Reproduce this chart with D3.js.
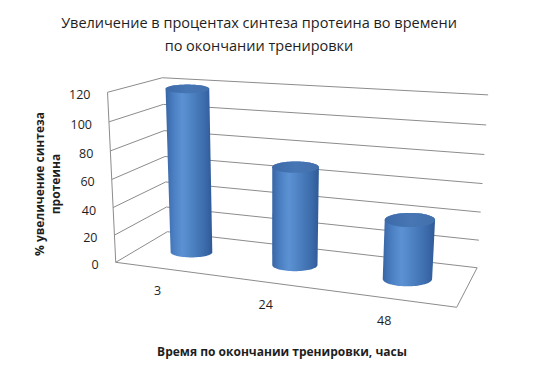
<!DOCTYPE html>
<html>
<head>
<meta charset="utf-8">
<script src="https://cdn.jsdelivr.net/npm/d3@7"></script>
<style>
  body { margin: 0; background: #fff; }
  text { font-family: "Open Sans", sans-serif; fill: #1e1e1e; }
</style>
</head>
<body>
<svg id="chart" width="548" height="378"></svg>
<script>
const categories = ['3', '24', '48'];
const values = [119, 70, 41];
const yTicks = [0, 20, 40, 60, 80, 100, 120];
const titleLines = ['Увеличение в процентах синтеза протеина во времени', 'по окончании тренировки'];
const yTitleLines = ['% увеличение синтеза', 'протеина'];
const xTitle = 'Время по окончании тренировки, часы';

const svg = d3.select('#chart');

const x = d3.scalePoint().domain(categories).range([0, 1]).padding(0.5);
const y = d3.scaleLinear().domain([0, 120]).range([0, 1]);

// where the plot box corners land on screen: [u, v, w] (w = depth) -> [px, py]
const corners = [
  [[0, 0, 0], [116, 261]],
  [[0, 1, 0], [107, 93]],
  [[1, 0, 0], [457, 308]],
  [[0, 0, 1], [167, 233]],
  [[0, 1, 1], [163, 77]],
  [[1, 0, 1], [477, 267]],
  [[1, 1, 1], [488, 95]]
];

// least squares fit of a perspective camera (3x4, last entry 1) to the corners
function fitCamera(pts) {
  const rows = [], rhs = [];
  pts.forEach(([[X, Y, Z], [px, py]]) => {
    rows.push([X, Y, Z, 1, 0, 0, 0, 0, -px * X, -px * Y, -px * Z]); rhs.push(px);
    rows.push([0, 0, 0, 0, X, Y, Z, 1, -py * X, -py * Y, -py * Z]); rhs.push(py);
  });
  const n = 11;
  const M = d3.range(n).map(i => d3.range(n + 1).map(j =>
    j < n ? d3.sum(rows, r => r[i] * r[j]) : d3.sum(rows, (r, k) => r[i] * rhs[k])));
  for (let c = 0; c < n; c++) {
    let p = c;
    for (let r = c + 1; r < n; r++) if (Math.abs(M[r][c]) > Math.abs(M[p][c])) p = r;
    [M[c], M[p]] = [M[p], M[c]];
    for (let r = 0; r < n; r++) {
      if (r === c) continue;
      const f = M[r][c] / M[c][c];
      for (let k = c; k <= n; k++) M[r][k] -= f * M[c][k];
    }
  }
  return M.map((row, i) => row[n] / row[i]);
}

const cam = fitCamera(corners);
function project(u, v, w) {
  const d = cam[8] * u + cam[9] * v + cam[10] * w + 1;
  return [(cam[0] * u + cam[1] * v + cam[2] * w + cam[3]) / d,
          (cam[4] * u + cam[5] * v + cam[6] * w + cam[7]) / d];
}

// gradients
const defs = svg.append('defs');
const bodyGrad = defs.append('linearGradient').attr('id', 'cylBody');
[[0, '#3866a5'], [0.18, '#4c80c4'], [0.36, '#5c92d4'], [0.6, '#4b7fbf'], [0.85, '#3b6aaa'], [1, '#2f5995']]
  .forEach(([o, c]) => bodyGrad.append('stop').attr('offset', o).attr('stop-color', c));
const topGrad = defs.append('linearGradient').attr('id', 'cylTop');
[[0, '#3d6aa8'], [0.5, '#4776b4'], [1, '#4270ad']]
  .forEach(([o, c]) => topGrad.append('stop').attr('offset', o).attr('stop-color', c));

// gridlines: side wall + back wall
const line = d3.line();
const grid = svg.append('g').attr('fill', 'none').attr('stroke', '#8c8c8c').attr('stroke-width', 1);
yTicks.forEach(t => {
  grid.append('path').attr('d', line([project(0, y(t), 0), project(0, y(t), 1), project(1, y(t), 1)]));
});
// value axis line and floor outline
grid.append('path').attr('d', line([project(0, 1, 0), project(0, 0, 0), project(1, 0, 0), project(1, 0, 1)]));

// value tick labels
svg.append('g').selectAll('text').data(yTicks).join('text')
  .attr('x', d => project(0, y(d), 0)[0] - 17)
  .attr('y', d => project(0, y(d), 0)[1] + 7)
  .attr('text-anchor', 'end')
  .style('font-size', '12.5px')
  .text(d => d);

// category labels under the front edge
svg.append('g').selectAll('text').data(categories).join('text')
  .attr('x', d => project(x(d), 0, 0)[0] - 9)
  .attr('y', d => project(x(d), 0, 0)[1] + 26)
  .attr('text-anchor', 'middle')
  .style('font-size', '12.5px')
  .text(d => d);

// cylinders
const ru = 0.07, depth = 0.5;
function ellipse(u, v) {
  const c = project(u, v, depth);
  const rx = (project(u + ru, v, depth)[0] - project(u - ru, v, depth)[0]) / 2;
  const ry = rx * (0.2 + 0.0003 * (c[1] - 90) + 0.0002 * (c[0] - 190));
  return d3.range(72).map(i => {
    const a = i / 72 * 2 * Math.PI;
    return [c[0] + rx * Math.cos(a), c[1] + ry * Math.sin(a)];
  });
}
const toPath = pts => 'M' + pts.map(p => p.join(',')).join('L') + 'Z';

const cyl = svg.append('g').selectAll('g').data(categories).join('g');
cyl.append('path')
  .attr('fill', 'url(#cylBody)')
  .attr('d', (d, i) => toPath(d3.polygonHull(ellipse(x(d), 0).concat(ellipse(x(d), y(values[i]))))));
cyl.append('path')
  .attr('fill', 'url(#cylTop)')
  .attr('d', (d, i) => toPath(ellipse(x(d), y(values[i]))));

// titles
svg.append('g').selectAll('text').data(titleLines).join('text')
  .attr('x', 259)
  .attr('y', (d, i) => 28 + i * 23)
  .attr('text-anchor', 'middle')
  .style('font-size', '14.5px')
  .text(d => d);

svg.append('g').selectAll('text').data(yTitleLines).join('text')
  .attr('transform', (d, i) => `translate(${44 + i * 15.5},184) rotate(-90)`)
  .attr('text-anchor', 'middle')
  .style('font-size', '12px')
  .style('font-weight', 'bold')
  .text(d => d);

svg.append('text')
  .attr('x', 282)
  .attr('y', 356)
  .attr('text-anchor', 'middle')
  .style('font-size', '12px')
  .style('font-weight', 'bold')
  .text(xTitle);
</script>
</body>
</html>
